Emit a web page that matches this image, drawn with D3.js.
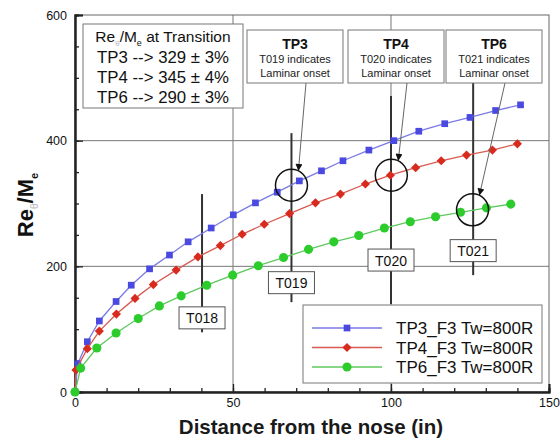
<!DOCTYPE html>
<html>
<head>
<meta charset="utf-8">
<script src="https://cdn.jsdelivr.net/npm/d3@7"></script>
<style>
  body { margin: 0; background: #fff; }
  svg { font-family: "Liberation Sans", Arial, sans-serif; }
</style>
</head>
<body>
<svg id="chart" width="560" height="441"></svg>
<script>
// data
var tp3X = [0, 0.9, 3.9, 7.7, 13, 17.8, 23.6, 29.9, 35.8, 43.1, 50.1, 57.1, 64, 71, 78, 84.8, 93, 100.9, 108.8, 117, 125, 133.1, 141];
var tp3Y = [0, 45, 80, 113, 144, 170, 196, 218, 239, 261, 282, 301, 318, 336, 352, 368, 385, 400, 415, 427, 437, 448, 457];
var tp4X = [0, 0.3, 3.9, 7.7, 13.1, 19, 24.8, 32, 38.9, 46, 52.9, 59.9, 67.9, 76.1, 84, 91.9, 99.8, 107.8, 115.9, 123.9, 132.1, 140];
var tp4Y = [0, 35, 69, 97, 124, 149, 171, 194, 215, 233, 251, 267, 284, 301, 315, 331, 345, 357, 368, 377, 385, 395];
var tp6X = [0, 1.8, 6.9, 13, 20, 26.7, 33.6, 41.7, 49.9, 58, 66, 73.9, 81.9, 89.8, 97.9, 106.1, 114.1, 122, 130.2, 137.9];
var tp6Y = [0, 38, 70, 94, 117, 137, 153, 170, 186, 201, 214, 227, 239, 249, 261, 271, 279, 286, 293, 299];

var seriesNames = ["TP3_F3 Tw=800R", "TP4_F3 Tw=800R", "TP6_F3 Tw=800R"];
var seriesColors = ["#4a4ae0", "#d92a1e", "#2ccc2c"];
var lineColors = ["#7a7ae6", "#d85a50", "#5ec85e"];

// thermocouples: name, x, line top/bottom, label y
var tcNames = ["T018", "T019", "T020", "T021"];
var tcX = [40.2, 68.5, 100, 126];
var tcTop = [315, 412, 471, 492];
var tcBottom = [95, 143, 140, 186];
var tcLabelY = [118, 174, 210, 225];

// transition callouts
var trNames = ["TP3", "TP4", "TP6"];
var trNotes = ["T019 indicates", "T020 indicates", "T021 indicates"];
var trX = [68.5, 100.1, 125.8];
var trY = [329, 345, 290];

var infoLines = ["TP3 --> 329 \u00b1 3%", "TP4 --> 345 \u00b1 4%", "TP6 --> 290 \u00b1 3%"];

var xTicks = [0, 50, 100, 150];
var yTicks = [0, 200, 400, 600];

var svg = d3.select("#chart");
var L = 75, R = 549, T = 15, B = 392;

var x = d3.scaleLinear().domain([0, 150]).range([L, R]);
var y = d3.scaleLinear().domain([0, 600]).range([B, T]);

// grid
svg.append("g").selectAll("line").data([50, 100]).enter().append("line")
  .attr("x1", d => x(d)).attr("x2", d => x(d)).attr("y1", T).attr("y2", B)
  .attr("stroke", "#777").attr("stroke-width", 1);
svg.append("g").selectAll("line").data([200, 400]).enter().append("line")
  .attr("x1", L).attr("x2", R).attr("y1", d => y(d)).attr("y2", d => y(d))
  .attr("stroke", "#777").attr("stroke-width", 1);

// frame
svg.append("rect").attr("x", L).attr("y", T).attr("width", R - L).attr("height", B - T)
  .attr("fill", "none").attr("stroke", "#666").attr("stroke-width", 1);

// axes
var xAxis = d3.axisBottom(x).tickValues(xTicks).tickSize(-8).tickPadding(6);
svg.append("g").attr("transform", "translate(0," + B + ")").call(xAxis);
var xMinor = d3.axisBottom(x).tickValues(d3.range(0, 151, 10)).tickSize(-4).tickFormat("");
svg.append("g").attr("transform", "translate(0," + B + ")").call(xMinor);

var yAxis = d3.axisLeft(y).tickValues(yTicks).tickSize(-8).tickPadding(8);
svg.append("g").attr("transform", "translate(" + L + ",0)").call(yAxis);
var yMinor = d3.axisLeft(y).tickValues(d3.range(0, 601, 50)).tickSize(-4).tickFormat("");
svg.append("g").attr("transform", "translate(" + L + ",0)").call(yMinor);

svg.selectAll(".domain").attr("stroke", "#222").attr("stroke-width", 2);
svg.selectAll(".tick line").attr("stroke", "#222").attr("stroke-width", 1.3);
svg.selectAll(".tick text").attr("font-size", 12.5).attr("fill", "#111");

// axis titles
svg.append("text").attr("x", 311).attr("y", 434).attr("text-anchor", "middle")
  .attr("font-size", 20.5).attr("font-weight", "bold").attr("fill", "#1a1a1a").text("Distance from the nose (in)");

var yt = svg.append("text").attr("transform", "translate(33,205) rotate(-90)")
  .attr("text-anchor", "middle").attr("font-size", 22).attr("font-weight", "bold").attr("fill", "#111");
yt.append("tspan").text("Re");
yt.append("tspan").attr("font-size", 10).attr("dy", 5).attr("font-weight", "normal").attr("fill", "#bbb").text("\u03b8");
yt.append("tspan").attr("dy", -5).text("/M");
yt.append("tspan").attr("font-size", 11).attr("dy", 5).text("e");

// thermocouple lines
svg.append("g").selectAll("line").data(tcX).enter().append("line")
  .attr("x1", d => x(d)).attr("x2", d => x(d))
  .attr("y1", (d, i) => y(tcTop[i])).attr("y2", (d, i) => y(tcBottom[i]))
  .attr("stroke", "#333").attr("stroke-width", 2);

// series
var xs = [tp3X, tp4X, tp6X], ys = [tp3Y, tp4Y, tp6Y];
var line = d3.line().x(d => x(d[0])).y(d => y(d[1]));
var symbols = [d3.symbolSquare, d3.symbolSquare, d3.symbolCircle];
var symSize = [45, 42, 65];
var symRot = [0, 45, 0];

function drawSeries(i) {
  var pts = xs[i].map((v, j) => [v, ys[i][j]]);
  svg.append("path").datum(pts).attr("d", line)
    .attr("fill", "none").attr("stroke", lineColors[i]).attr("stroke-width", 1.3);
  svg.append("g").selectAll("path").data(pts).enter().append("path")
    .attr("transform", d => "translate(" + x(d[0]) + "," + y(d[1]) + ") rotate(" + symRot[i] + ")")
    .attr("d", d3.symbol().type(symbols[i]).size(symSize[i]))
    .attr("fill", seriesColors[i]);
}
drawSeries(0); drawSeries(1); drawSeries(2);

// thermocouple labels
tcNames.forEach(function(n, i) {
  var g = svg.append("g").attr("transform", "translate(" + x(tcX[i]) + "," + y(tcLabelY[i]) + ")");
  g.append("rect").attr("x", -23).attr("y", -11).attr("width", 46).attr("height", 22)
    .attr("fill", "#fff").attr("stroke", "#555").attr("stroke-width", 1);
  g.append("text").attr("text-anchor", "middle").attr("y", 5.5).attr("font-size", 14)
    .attr("fill", "#111").text(n);
});

// transition circles
svg.append("g").selectAll("circle").data(trX).enter().append("circle")
  .attr("cx", d => x(d)).attr("cy", (d, i) => y(trY[i])).attr("r", 16)
  .attr("fill", "none").attr("stroke", "#111").attr("stroke-width", 1.5);

// callout boxes
svg.append("defs").append("marker").attr("id", "arr")
  .attr("viewBox", "0 0 10 10").attr("refX", 9).attr("refY", 5)
  .attr("markerWidth", 9).attr("markerHeight", 7).attr("orient", "auto")
  .append("path").attr("d", "M0,0 L10,5 L0,10 z").attr("fill", "#111");

var boxL = [247, 348, 446];
trNames.forEach(function(n, i) {
  var bx = boxL[i], cx = bx + 48;
  svg.append("line").attr("x1", cx + 11).attr("y1", 83)
    .attr("x2", x(trX[i]) + 7).attr("y2", y(trY[i]) - 15)
    .attr("stroke", "#666").attr("stroke-width", 1).attr("marker-end", "url(#arr)");
  svg.append("rect").attr("x", bx).attr("y", 30).attr("width", 96).attr("height", 53)
    .attr("fill", "#fff").attr("stroke", "#777").attr("stroke-width", 1);
  svg.append("text").attr("x", cx).attr("y", 49).attr("text-anchor", "middle")
    .attr("font-size", 14).attr("font-weight", "bold").attr("fill", "#111").text(n);
  svg.append("text").attr("x", cx).attr("y", 63).attr("text-anchor", "middle")
    .attr("font-size", 11).attr("fill", "#222").text(trNotes[i]);
  svg.append("text").attr("x", cx).attr("y", 77).attr("text-anchor", "middle")
    .attr("font-size", 11).attr("fill", "#222").text("Laminar onset");
});

// info box
svg.append("rect").attr("x", 83).attr("y", 24).attr("width", 160).attr("height", 84)
  .attr("fill", "#fff").attr("stroke", "#777").attr("stroke-width", 1);
var ht = svg.append("text").attr("x", 163).attr("y", 42).attr("text-anchor", "middle")
  .attr("font-size", 15.5).attr("fill", "#111");
ht.append("tspan").text("Re");
ht.append("tspan").attr("font-size", 8).attr("dy", 4).attr("fill", "#bbb").text("\u03b8");
ht.append("tspan").attr("dy", -4).text("/M");
ht.append("tspan").attr("font-size", 9).attr("dy", 4).text("e");
ht.append("tspan").attr("dy", -4).text(" at Transition");
infoLines.forEach(function(t, i) {
  svg.append("text").attr("x", 163).attr("y", 63 + i * 20).attr("text-anchor", "middle")
    .attr("font-size", 16.8).attr("fill", "#111").text(t);
});

// legend
var lg = svg.append("g");
lg.append("rect").attr("x", 303).attr("y", 305).attr("width", 239).attr("height", 78)
  .attr("fill", "#fff").attr("stroke", "#777").attr("stroke-width", 1);
seriesNames.forEach(function(n, i) {
  var ly = 328 + i * 19.5;
  lg.append("line").attr("x1", 312).attr("x2", 382).attr("y1", ly).attr("y2", ly)
    .attr("stroke", lineColors[i]).attr("stroke-width", 1.3);
  lg.append("path").attr("transform", "translate(347," + ly + ") rotate(" + symRot[i] + ")")
    .attr("d", d3.symbol().type(symbols[i]).size(symSize[i])).attr("fill", seriesColors[i]);
  lg.append("text").attr("x", 396).attr("y", ly + 6).attr("font-size", 17)
    .attr("fill", "#111").text(n);
});
</script>
</body>
</html>
